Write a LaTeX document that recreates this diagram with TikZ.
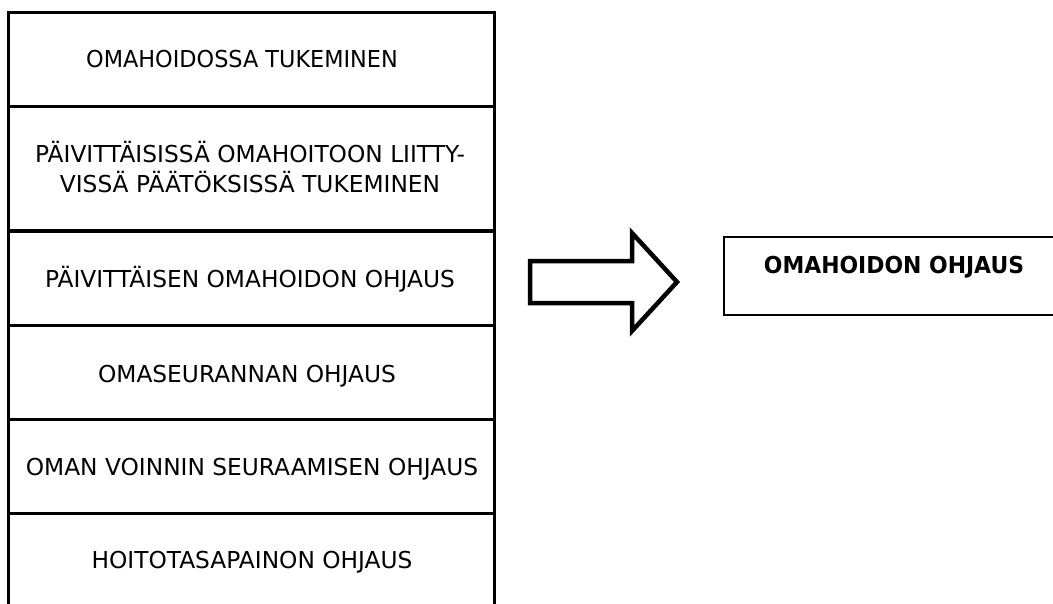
\documentclass[tikz,border=0pt]{standalone}
\usepackage{fontspec}
\setmainfont{DejaVu Sans}[BoldFeatures={FakeStretch=0.94}]
\newfontfamily\tightfont{DejaVu Sans}[FakeStretch=0.96]
\begin{document}
\begin{tikzpicture}[x=1pt,y=-1pt,
  stackbox/.style={draw, line width=3pt, rectangle, minimum width=486pt, inner sep=0pt},
  boxtext/.style={font=\fontsize{23.3}{30}\selectfont, inner sep=0pt, anchor=base, align=center},
  resultbox/.style={draw, line width=1.5pt, rectangle, minimum width=336pt, minimum height=78pt, inner sep=0pt},
  blockarrow/.style={draw, line width=4.5pt, line join=miter, fill=white}]
\useasboundingbox (0,0) rectangle (1053,603);
\clip (0,0) rectangle (1053,603);

% stacked boxes on the left
\node[stackbox, minimum height=94pt]  (b1) at (251,59)  {};
\node[stackbox, minimum height=124pt] (b2) at (251,168) {};
\node[stackbox, minimum height=94pt]  (b3) at (251,278) {};
\node[stackbox, minimum height=94pt]  (b4) at (251,372) {};
\node[stackbox, minimum height=94pt]  (b5) at (251,466) {};
\node[stackbox, minimum height=94pt]  (b6) at (251,560) {};

\node[boxtext, font=\fontsize{23.3}{30}\tightfont] (t1) at (242,67) {OMAHOIDOSSA TUKEMINEN};
\node[boxtext] (t2) at (250,192) {PÄIVITTÄISISSÄ OMAHOITOON LIITTY-\\VISSÄ PÄÄTÖKSISSÄ TUKEMINEN};
\node[boxtext] (t3) at (250,287) {PÄIVITTÄISEN OMAHOIDON OHJAUS};
\node[boxtext] (t4) at (247,382) {OMASEURANNAN OHJAUS};
\node[boxtext] (t5) at (252,475) {OMAN VOINNIN SEURAAMISEN OHJAUS};
\node[boxtext] (t6) at (252,568) {HOITOTASAPAINON OHJAUS};

% block arrow
\draw[blockarrow] (530,261) -- (632,261) -- (632,233) -- (677,282)
  -- (632,331) -- (632,303) -- (530,303) -- cycle;

% result box on the right
\node[resultbox] (r) at (892,276) {};
\node[boxtext, font=\fontsize{23.3}{30}\selectfont\bfseries] (t7) at (894,273) {OMAHOIDON OHJAUS};
\end{tikzpicture}
\end{document}
